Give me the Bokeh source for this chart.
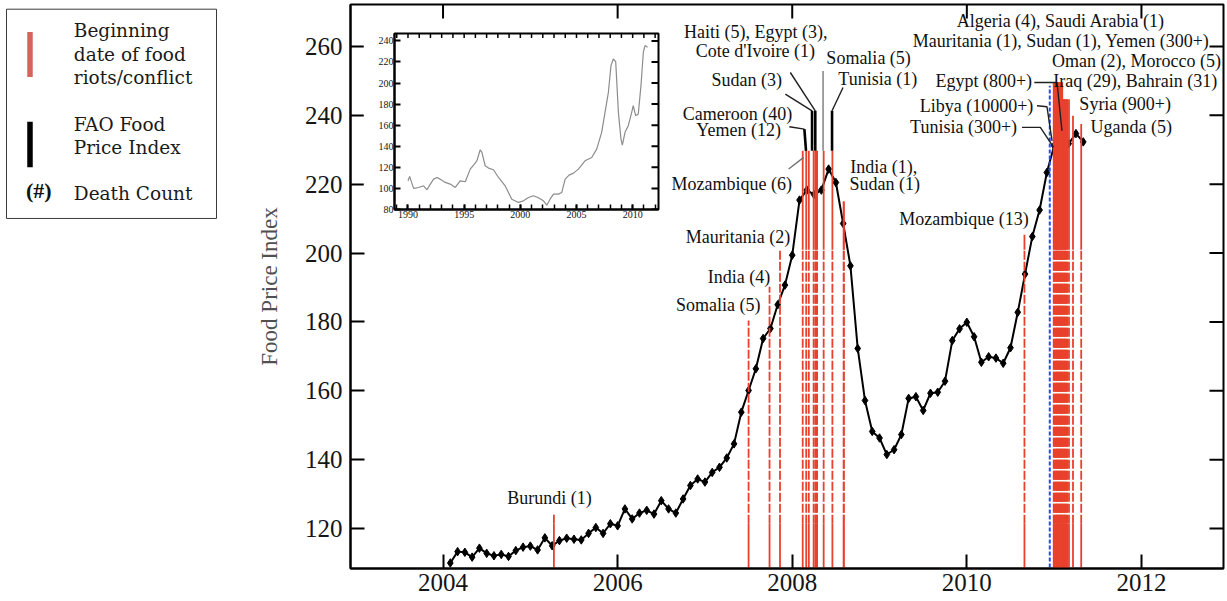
import math
import pandas as pd
from bokeh.plotting import figure
from bokeh.models import Range1d, FixedTicker, GridBox
from bokeh.core.properties import value
from bokeh.embed import file_html
from bokeh.resources import INLINE

# ---------------- data ----------------
# FAO Food Price Index, monthly Feb 2004 - May 2011
fpi_months = pd.date_range("2004-02-01", "2011-05-01", freq="MS")
fpi_values = [
    110.0, 113.3, 113.1, 111.7, 114.3, 112.8, 112.1, 112.5, 111.9, 113.6, 114.6,          # 2004
    114.9, 113.8, 117.3, 115.0, 116.5, 117.2, 116.9, 116.7, 118.6, 120.3, 118.6, 121.4,   # 2005
    120.8, 125.7, 122.8, 124.5, 125.3, 124.2, 128.1, 125.7, 124.5, 128.6, 132.5, 134.4,   # 2006
    133.5, 136.3, 137.8, 140.5, 144.6, 153.8, 160.1, 166.4, 175.2, 178.1, 185.0, 190.7,   # 2007
    199.4, 215.4, 218.3, 217.0, 218.3, 224.4, 220.5, 208.6, 196.3, 172.3, 157.2, 148.2,   # 2008
    146.3, 141.5, 142.9, 147.3, 157.8, 158.3, 154.3, 159.3, 159.6, 162.8, 174.6, 178.0,   # 2009
    179.9, 175.7, 168.3, 169.9, 169.5, 168.0, 172.5, 182.8, 193.9, 204.8, 212.5, 223.4,   # 2010
    231.2, 236.0, 231.8, 234.7, 232.3,                                                    # 2011
]

# Inset: FAO Food Price Index 1990-2011
inset_years = [1990.0, 1990.15, 1990.5, 1990.95, 1991.39, 1991.69, 1991.99, 1992.28, 1992.58,
               1992.87, 1993.32, 1993.76, 1994.21, 1994.65, 1995.1, 1995.54, 1995.84, 1996.13,
               1996.43, 1996.58, 1996.87, 1997.23, 1997.61, 1998.06, 1998.65, 1999.24, 1999.84,
               2000.28, 2000.73, 2001.17, 2001.61, 2002.06, 2002.36, 2002.65, 2002.95, 2003.39,
               2003.69, 2003.99, 2004.34, 2004.73, 2005.17, 2005.76, 2006.36, 2006.8, 2007.24,
               2007.54, 2007.84, 2008.07, 2008.28, 2008.49, 2008.73, 2008.96, 2009.08, 2009.32,
               2009.61, 2009.9, 2010.05, 2010.27, 2010.5, 2010.74, 2010.95, 2011.1, 2011.33]
inset_values = [107.2, 111.4, 100.0, 100.9, 102.5, 98.7, 104.1, 108.8, 110.4,
                108.8, 105.7, 104.1, 100.9, 107.2, 106.3, 118.3, 122.1, 126.2,
                136.7, 134.2, 121.5, 119.0, 117.7, 110.4, 102.5, 89.8, 86.7,
                88.2, 91.4, 93.0, 91.1, 88.2, 84.1, 89.8, 94.6, 94.6,
                96.2, 108.8, 112.6, 114.5, 118.3, 126.2, 129.4, 137.3, 153.2,
                172.2, 191.2, 216.5, 222.8, 220.3, 172.2, 146.8, 141.1, 153.2,
                159.5, 171.5, 178.5, 169.0, 170.6, 197.5, 229.2, 235.5, 233.9]

# Food riots / conflicts: beginning date (decimal year), height of the marker line
event_names = ["Burundi (1)", "Somalia (5)", "India (4)", "Mauritania (2)", "Mozambique (6)",
               "Cameroon (40)", "Yemen (12)", "Sudan (3)", "Haiti (5)", "Egypt (3)",
               "Cote d'Ivoire (1)", "Somalia (5)", "Tunisia (1)", "India (1)", "Sudan (1)",
               "Mozambique (13)", "Tunisia (300+)", "Algeria (4)", "Saudi Arabia (1)",
               "Mauritania (1)", "Sudan (1)", "Yemen (300+)", "Egypt (800+)", "Libya (10000+)",
               "Oman (2)", "Morocco (5)", "Iraq (29)", "Bahrain (31)", "Syria (900+)", "Uganda (5)"]
event_dates = [2005.27, 2007.50, 2007.74, 2007.86, 2008.12,
               2008.16, 2008.19, 2008.245, 2008.265, 2008.275,
               2008.285, 2008.36, 2008.46, 2008.59, 2008.59,
               2010.66, 2010.995, 2011.01, 2011.025,
               2011.04, 2011.055, 2011.07, 2011.085, 2011.10,
               2011.12, 2011.135, 2011.15, 2011.17, 2011.216, 2011.31]
event_tops = [124.4, 180.4, 190.2, 200.7, 229.7,
              229.7, 229.7, 229.7, 229.7, 229.7,
              229.7, 229.7, 229.7, 215.0, 215.0,
              205.3, 249.6, 249.6, 249.6,
              249.6, 249.6, 249.6, 249.6, 244.7,
              244.7, 244.7, 244.7, 244.7, 239.9, 237.5]

# blue dashed reference line (Dec 2010)
blue_date = [2010.95]
blue_top = [248.6]

x_ticks = [2004, 2006, 2008, 2010, 2012]
y_ticks = [120, 140, 160, 180, 200, 220, 240, 260]
inset_x_ticks = [1990, 1995, 2000, 2005, 2010]
inset_x_minor = list(range(1989, 2013))
inset_y_ticks = [80, 100, 120, 140, 160, 180, 200, 220, 240]

# ---------------- annotation layout ----------------
labels_right = [("Somalia (5)", 2007.635, 184.8), ("India (4)", 2007.749, 193.0),
                ("Mauritania (2)", 2007.978, 204.6), ("Mozambique (6)", 2007.998, 220.1),
                ("Sudan (3)", 2007.883, 250.3), ("Mozambique (13)", 2010.708, 209.95),
                ("Egypt (800+)", 2010.747, 250.0), ("Libya (10000+)", 2010.762, 242.8),
                ("Tunisia (300+)", 2010.575, 236.5)]
labels_center = [("Burundi (1)", 2005.22, 128.8), ("Cameroon (40)", 2007.373, 240.4),
                 ("Yemen (12)", 2007.386, 235.8), ("Haiti (5), Egypt (3),", 2007.582, 264.1),
                 ("Cote d'Ivoire (1)", 2007.577, 258.8),
                 ("Algeria (4), Saudi Arabia (1)", 2011.077, 267.3),
                 ("Mauritania (1), Sudan (1), Yemen (300+)", 2011.08, 261.65)]
labels_left = [("Somalia (5)", 2008.391, 256.6), ("Tunisia (1)", 2008.528, 250.5),
               ("India (1),", 2008.665, 224.9), ("Sudan (1)", 2008.657, 220.2),
               ("Oman (2), Morocco (5)", 2010.976, 255.7), ("Iraq (29), Bahrain (31)", 2010.991, 250.0),
               ("Syria (900+)", 2011.289, 243.3), ("Uganda (5)", 2011.416, 236.7)]

thin_leaders = [([2007.978, 2008.264], [252.45, 241.33]),
                ([2007.921, 2008.227], [246.18, 241.33]),
                ([2008.582, 2008.456], [248.1, 241.33]),
                ([2007.967, 2008.139], [236.7, 236.0]),
                ([2010.773, 2011.033, 2011.09], [249.55, 249.55, 235.5]),
                ([2010.804, 2010.918, 2010.976], [242.8, 242.5, 232.6]),
                ([2010.632, 2010.842, 2010.994], [236.5, 236.5, 230.7])]
gray_leaders = [([2008.353, 2008.353], [252.9, 229.7]),
                ([2007.959, 2008.131], [224.4, 227.8])]
thick_leaders = [([2008.264, 2008.264], [241.33, 229.7]),
                 ([2008.227, 2008.227], [241.33, 229.7]),
                 ([2008.456, 2008.456], [241.33, 229.7]),
                 ([2008.139, 2008.158], [236.0, 229.7])]

SERIF = "Liberation Serif"
RED = "#e8412c"
X_START, X_END = 2002.94, 2012.94
Y_START, Y_END = 108.4, 272.2
Y_FLOOR = 100.0
SOLID_LOW = 121.4
SOLID_HIGH = 201.0

fpi_x = [d.year + (d.month - 1) / 12 for d in fpi_months]

# events inside a dense burst (>= 4 other distinct dates within 0.05 yr) are drawn wider
# so that they merge into a solid band, as in the original
event_widths = []
for i, d in enumerate(event_dates):
    near = {o for j, o in enumerate(event_dates) if j != i and 0 < abs(d - o) < 0.05}
    event_widths.append(3.2 if len(near) >= 4 else 1.8)


def style_axis(ax, size, standoff, tick_in, width=2):
    ax.axis_line_color = "black"
    ax.axis_line_width = width
    ax.major_tick_line_color = "black"
    ax.major_tick_line_width = width
    ax.major_tick_in = tick_in
    ax.major_tick_out = 0
    ax.minor_tick_out = 0
    ax.major_label_text_font = SERIF
    ax.major_label_text_color = "#151515"
    ax.major_label_text_font_size = size
    ax.major_label_standoff = standoff


# ---------------- main figure ----------------
p = figure(width=977, height=601, x_range=Range1d(X_START, X_END), y_range=Range1d(Y_START, Y_END),
           output_backend="svg", toolbar_location=None,
           min_border_left=100, min_border_right=4, min_border_top=4, min_border_bottom=33)
p.xgrid.visible = False
p.ygrid.visible = False
p.outline_line_color = "black"
p.outline_line_width = 2

p.xaxis.ticker = FixedTicker(ticks=x_ticks, minor_ticks=[])
p.yaxis.ticker = FixedTicker(ticks=y_ticks, minor_ticks=[])
style_axis(p.xaxis[0], "25px", 5, 14)
style_axis(p.yaxis[0], "25px", 8, 14)
p.yaxis.axis_label = "Food Price Index"
p.yaxis.axis_label_text_font = SERIF
p.yaxis.axis_label_text_font_size = "23px"
p.yaxis.axis_label_text_font_style = "normal"
p.yaxis.axis_label_text_color = "#505050"
p.yaxis.axis_label_standoff = 20

# mirrored inward ticks on top and right edges (half of each dash is clipped by the frame)
p.scatter(x=x_ticks, y=[Y_END] * len(x_ticks), marker="dash", angle=math.pi / 2, size=28,
          line_color="black", line_width=2)
p.scatter(x=[X_END] * len(y_ticks), y=y_ticks, marker="dash", size=28,
          line_color="black", line_width=2)

# price index curve
p.line(fpi_x, fpi_values, line_color="black", line_width=2)
p.scatter(fpi_x, fpi_values, marker="diamond", size=8.5, color="black")

# riot lines: solid foot, dashed body, solid head
low_y1 = [min(t, SOLID_LOW) for t in event_tops]
p.segment(x0=event_dates, y0=[Y_FLOOR] * len(event_dates), x1=event_dates, y1=low_y1,
          line_color=RED, line_width=event_widths)
mid = [(d, min(t, SOLID_HIGH), w) for d, t, w in zip(event_dates, event_tops, event_widths) if t > SOLID_LOW]
p.segment(x0=[m[0] for m in mid], y0=[SOLID_LOW] * len(mid), x1=[m[0] for m in mid],
          y1=[m[1] for m in mid], line_color=RED, line_width=[m[2] for m in mid], line_dash="9 2")
high = [(d, t, w) for d, t, w in zip(event_dates, event_tops, event_widths) if t > SOLID_HIGH]
p.segment(x0=[h[0] for h in high], y0=[SOLID_HIGH] * len(high), x1=[h[0] for h in high],
          y1=[h[1] for h in high], line_color=RED, line_width=[h[2] for h in high])

p.segment(x0=blue_date, y0=[Y_FLOOR], x1=blue_date, y1=blue_top,
          line_color="#1f4bff", line_width=2, line_dash="4 2")

# leader lines
p.multi_line([l[0] for l in thin_leaders], [l[1] for l in thin_leaders],
             line_color="#202020", line_width=1.4)
p.multi_line([l[0] for l in gray_leaders], [l[1] for l in gray_leaders],
             line_color="#707070", line_width=1.3)
p.multi_line([l[0] for l in thick_leaders], [l[1] for l in thick_leaders],
             line_color="black", line_width=2.6)

for items, align in ((labels_right, "right"), (labels_center, "center"), (labels_left, "left")):
    p.text(x=[i[1] for i in items], y=[i[2] for i in items], text=[i[0] for i in items],
           text_align=align, text_baseline="middle", text_font=value(SERIF),
           text_font_size=value("18px"), text_color="#111111")

# ---------------- inset ----------------
IX_START, IX_END = 1988.8, 2012.3
IY_START, IY_END = 80, 247
ins = figure(width=297, height=192, x_range=Range1d(IX_START, IX_END), y_range=Range1d(IY_START, IY_END),
             output_backend="svg", toolbar_location=None,
             min_border_left=31, min_border_right=2, min_border_top=3, min_border_bottom=13)
ins.xgrid.visible = False
ins.ygrid.visible = False
ins.outline_line_color = "black"
ins.outline_line_width = 2
ins.xaxis.ticker = FixedTicker(ticks=inset_x_ticks, minor_ticks=inset_x_minor)
ins.yaxis.ticker = FixedTicker(ticks=inset_y_ticks, minor_ticks=[])
style_axis(ins.xaxis[0], "10px", 1, 5)
style_axis(ins.yaxis[0], "10px", 1, 6)
ins.xaxis.minor_tick_in = 5
ins.xaxis.minor_tick_line_width = 1.5
ins.xaxis.minor_tick_line_color = "black"
ins.scatter(x=inset_x_minor, y=[IY_END] * len(inset_x_minor), marker="dash", angle=math.pi / 2,
            size=9, line_color="black", line_width=1.5)
ins.scatter(x=[IX_END] * len(inset_y_ticks), y=inset_y_ticks, marker="dash", size=14,
            line_color="black", line_width=2)
ins.line(inset_years, inset_values, line_color="#8c8c8c", line_width=1.2)

# ---------------- legend box ----------------
lg = figure(width=250, height=601, x_range=Range1d(0, 250), y_range=Range1d(601, 0),
            output_backend="svg", toolbar_location=None, min_border=0)
lg.axis.visible = False
lg.outline_line_color = None
lg.xgrid.visible = False
lg.ygrid.visible = False
lg.quad(left=[6], right=[216], top=[5], bottom=[228], fill_color="white",
        line_color="#3a3a3a", line_width=1)
lg.segment(x0=[29.5], y0=[29.3], x1=[29.5], y1=[77.3], line_color="#d6645c", line_width=5.5)
lg.segment(x0=[29.5], y0=[125], x1=[29.5], y1=[173.3], line_color="black", line_width=5.5)
lg.text(x=[73.3] * 6, y=[27.8, 52.8, 77.8, 127.8, 152.8, 201.2],
        text=["Beginning", "date of food", "riots/conflict", "FAO Food", "Price Index", "Death Count"],
        text_align="left", text_baseline="middle", text_font=value("DejaVu Serif"),
        text_font_size=value("18.5px"), text_color="#1a1a1a")
lg.text(x=[38.3], y=[198.3], text=["(#)"], text_align="center", text_baseline="middle",
        text_font=value(SERIF), text_font_size=value("22px"), text_font_style="bold",
        text_color="#111111")

grid = GridBox(children=[(lg, 0, 0, 3, 1), (p, 0, 1, 3, 3), (ins, 1, 2, 1, 1)],
               rows=["30px", "192px", "379px"],
               cols=["250px", "113px", "297px", "567px"], spacing=0)

open("out.html", "w").write(file_html(grid, INLINE))
